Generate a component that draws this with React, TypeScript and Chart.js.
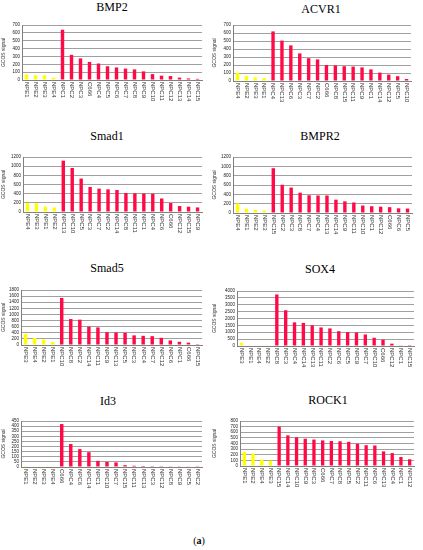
import { useEffect, useRef } from 'react';
import Chart from 'chart.js/auto';

// Expression data (GCOS signal), in the order each panel sorts it
const bmp2Labels = ['NPE1', 'NPE2', 'NPE3', 'NPE4', 'NPC1', 'NPC2', 'NPC3', 'C666', 'NPC4', 'NPC5', 'NPC6', 'NPC7', 'NPC8', 'NPC9', 'NPC10', 'NPC11', 'NPC12', 'NPC13', 'NPC14', 'NPC15'];
const bmp2Values = [70, 60, 60, 30, 640, 320, 275, 230, 210, 175, 160, 145, 135, 110, 75, 55, 50, 30, 20, 15];

const acvr1Labels = ['NPE4', 'NPE2', 'NPE3', 'NPE1', 'NPC4', 'NPC13', 'NPC6', 'NPC3', 'NPC7', 'NPC2', 'C666', 'NPC8', 'NPC15', 'NPC11', 'NPC9', 'NPC1', 'NPC14', 'NPC12', 'NPC5', 'NPC10'];
const acvr1Values = [105, 60, 45, 35, 620, 505, 445, 345, 285, 270, 200, 195, 185, 180, 170, 145, 105, 80, 60, 25];

const smad1Labels = ['NPE4', 'NPE3', 'NPE1', 'NPE2', 'NPC13', 'NPC10', 'NPC5', 'NPC3', 'NPC7', 'NPC2', 'NPC14', 'NPC8', 'NPC11', 'NPC1', 'NPC4', 'NPC6', 'C666', 'NPC12', 'NPC15', 'NPC9'];
const smad1Values = [200, 190, 115, 100, 1120, 960, 730, 545, 510, 495, 480, 415, 410, 405, 400, 295, 195, 130, 115, 100];

const bmpr2Labels = ['NPE4', 'NPE1', 'NPE2', 'NPE3', 'NPC15', 'NPC2', 'NPC3', 'NPC8', 'NPC7', 'NPC4', 'NPC13', 'NPC14', 'NPC9', 'NPC11', 'NPC10', 'NPC1', 'NPC12', 'C666', 'NPC6', 'NPC5'];
const bmpr2Values = [205, 90, 65, 50, 960, 605, 545, 435, 380, 375, 375, 285, 250, 225, 160, 145, 135, 125, 100, 95];

const smad5Labels = ['NPE3', 'NPE4', 'NPE2', 'NPE1', 'NPC10', 'NPC8', 'NPC2', 'NPC14', 'NPC11', 'NPC9', 'NPC13', 'NPC5', 'NPC3', 'NPC4', 'NPC7', 'NPC12', 'NPC6', 'NPC1', 'C666', 'NPC15'];
const smad5Values = [355, 230, 180, 100, 1540, 850, 830, 600, 575, 420, 410, 400, 315, 300, 290, 235, 150, 105, 75, 5];

const sox4Labels = ['NPE3', 'NPE1', 'NPE4', 'NPE2', 'NPC8', 'NPC3', 'NPC4', 'NPC14', 'NPC13', 'NPC11', 'NPC2', 'NPC6', 'NPC5', 'NPC9', 'NPC7', 'NPC10', 'C666', 'NPC12', 'NPC1', 'NPC15'];
const sox4Values = [240, 50, 50, 30, 3750, 2600, 1720, 1680, 1500, 1350, 1280, 1080, 1020, 980, 840, 600, 460, 170, 50, 10];

const id3Labels = ['NPE1', 'NPE2', 'NPE3', 'NPE4', 'C666', 'NPC4', 'NPC6', 'NPC14', 'NPC1', 'NPC10', 'NPC7', 'NPC15', 'NPC11', 'NPC13', 'NPC3', 'NPC12', 'NPC8', 'NPC9', 'NPC5', 'NPC2'];
const id3Values = [10, 7, 6, 6, 420, 225, 175, 145, 60, 50, 45, 18, 12, 10, 8, 8, 7, 7, 6, 2];

const rock1Labels = ['NPE1', 'NPE2', 'NPE4', 'NPE3', 'NPC15', 'NPC14', 'NPC10', 'NPC9', 'NPC3', 'C666', 'NPC7', 'NPC8', 'NPC5', 'NPC2', 'NPC11', 'NPC6', 'NPC13', 'NPC4', 'NPC1', 'NPC12'];
const rock1Values = [250, 225, 115, 95, 700, 545, 510, 485, 470, 455, 445, 440, 430, 395, 370, 365, 260, 230, 160, 120];

const NPE_COLOR = '#FFFF00';
const NPC_COLOR = '#FF0A47';

interface PanelConfig {
  title: string;
  labels: string[];
  values: number[];
  max: number;
  step: number;
  left: number; // page x of the panel canvas
  titleX: number; // centre of the title text
  titleY: number;
  axisX: number; // page x of the y axis line
  top: number; // page y of the top gridline
  bottom: number; // page y of the zero line
  right: number; // page x where gridlines end
}

const panels: PanelConfig[] = [
  { title: 'BMP2', labels: bmp2Labels, values: bmp2Values, max: 700, step: 100, left: 0, titleX: 112, titleY: 7, axisX: 22, top: 25, bottom: 80, right: 202 },
  { title: 'ACVR1', labels: acvr1Labels, values: acvr1Values, max: 700, step: 100, left: 211, titleX: 321, titleY: 9, axisX: 233, top: 25, bottom: 81, right: 411 },
  { title: 'Smad1', labels: smad1Labels, values: smad1Values, max: 1200, step: 200, left: 0, titleX: 107, titleY: 136, axisX: 23, top: 157, bottom: 212, right: 202 },
  { title: 'BMPR2', labels: bmpr2Labels, values: bmpr2Values, max: 1200, step: 200, left: 211, titleX: 320, titleY: 136, axisX: 233, top: 157, bottom: 213, right: 412 },
  { title: 'Smad5', labels: smad5Labels, values: smad5Values, max: 1800, step: 200, left: 0, titleX: 107, titleY: 268, axisX: 21, top: 290, bottom: 345, right: 202 },
  { title: 'SOX4', labels: sox4Labels, values: sox4Values, max: 4000, step: 500, left: 211, titleX: 320, titleY: 269, axisX: 237, top: 291, bottom: 346, right: 414 },
  { title: 'Id3', labels: id3Labels, values: id3Values, max: 450, step: 50, left: 0, titleX: 108, titleY: 401, axisX: 21, top: 421, bottom: 467, right: 202 },
  { title: 'ROCK1', labels: rock1Labels, values: rock1Values, max: 800, step: 100, left: 211, titleX: 328, titleY: 400, axisX: 240, top: 421, bottom: 466, right: 414 },
];

const PANEL_W = 211;
const TOP_PAD = 5;
const LABEL_SPACE = 24;

// x labels read top-to-bottom, hanging from the axis (Excel style)
const verticalLabels = {
  id: 'verticalLabels',
  afterDraw(chart: any) {
    const xScale = chart.scales.x;
    const ctx = chart.ctx;
    const labels = chart.data.labels as string[];
    ctx.save();
    ctx.font = '6px "Liberation Sans", Arial, sans-serif';
    ctx.fillStyle = '#333';
    ctx.textAlign = 'left';
    ctx.textBaseline = 'middle';
    labels.forEach((lab, i) => {
      ctx.save();
      ctx.translate(xScale.getPixelForTick(i), chart.chartArea.bottom + 2);
      ctx.rotate(Math.PI / 2);
      ctx.fillText(lab, 0, 0);
      ctx.restore();
    });
    ctx.restore();
  },
};

function Panel({ cfg }: { cfg: PanelConfig }) {
  const canvasRef = useRef<HTMLCanvasElement>(null);
  const height = cfg.bottom - cfg.top + TOP_PAD + LABEL_SPACE;

  useEffect(() => {
    if (!canvasRef.current) return;
    const chart = new Chart(canvasRef.current, {
      type: 'bar',
      data: {
        labels: cfg.labels,
        datasets: [
          {
            data: cfg.values,
            backgroundColor: cfg.labels.map((l) => (l.startsWith('NPE') ? NPE_COLOR : NPC_COLOR)),
            borderWidth: 0,
            categoryPercentage: 1,
            barPercentage: 0.38,
          },
        ],
      },
      options: {
        animation: false,
        responsive: true,
        maintainAspectRatio: false,
        layout: {
          padding: { top: TOP_PAD, left: 0, bottom: 0, right: PANEL_W - (cfg.right - cfg.left) },
        },
        plugins: {
          legend: { display: false },
          tooltip: { enabled: false },
        },
        scales: {
          x: {
            grid: { display: false },
            border: { display: true, color: '#808080' },
            ticks: { display: false },
            afterFit: (scale: any) => {
              scale.height = LABEL_SPACE;
            },
          },
          y: {
            min: 0,
            max: cfg.max,
            ticks: {
              stepSize: cfg.step,
              autoSkip: false,
              padding: 2,
              color: '#222',
              font: { family: '"Liberation Sans", Arial, sans-serif', size: 4.5 },
              callback: (v: any) => String(v),
            },
            grid: { color: '#a0a0a0', drawTicks: false, lineWidth: 1 },
            border: { display: true, color: '#808080' },
            title: {
              display: true,
              text: 'GCOS signal',
              color: '#333',
              padding: { top: 1, bottom: 0 },
              font: { family: '"Liberation Sans", Arial, sans-serif', size: 5 },
            },
            afterFit: (scale: any) => {
              scale.width = cfg.axisX - cfg.left;
            },
          },
        },
      },
      plugins: [verticalLabels],
    });
    return () => chart.destroy();
  }, [cfg]);

  return (
    <>
      <div
        style={{
          position: 'absolute',
          left: cfg.titleX - 60,
          top: cfg.titleY - 6,
          width: 120,
          textAlign: 'center',
          fontFamily: '"Liberation Serif", "Times New Roman", serif',
          fontSize: 12,
          lineHeight: '12px',
          color: '#000',
        }}
      >
        {cfg.title}
      </div>
      <div
        style={{
          position: 'absolute',
          left: cfg.left,
          top: cfg.top - TOP_PAD,
          width: PANEL_W,
          height,
        }}
      >
        <canvas ref={canvasRef} />
      </div>
    </>
  );
}

export default function App() {
  return (
    <div
      style={{
        position: 'absolute',
        left: 0,
        top: 0,
        width: 423,
        height: 550,
        background: '#fff',
        overflow: 'hidden',
      }}
    >
      {panels.map((p) => (
        <Panel key={p.title} cfg={p} />
      ))}
      <div
        style={{
          position: 'absolute',
          left: 179,
          top: 535,
          width: 40,
          textAlign: 'center',
          fontFamily: '"Liberation Serif", "Times New Roman", serif',
          fontSize: 10,
          lineHeight: '12px',
        }}
      >
        (<b>a</b>)
      </div>
    </div>
  );
}
